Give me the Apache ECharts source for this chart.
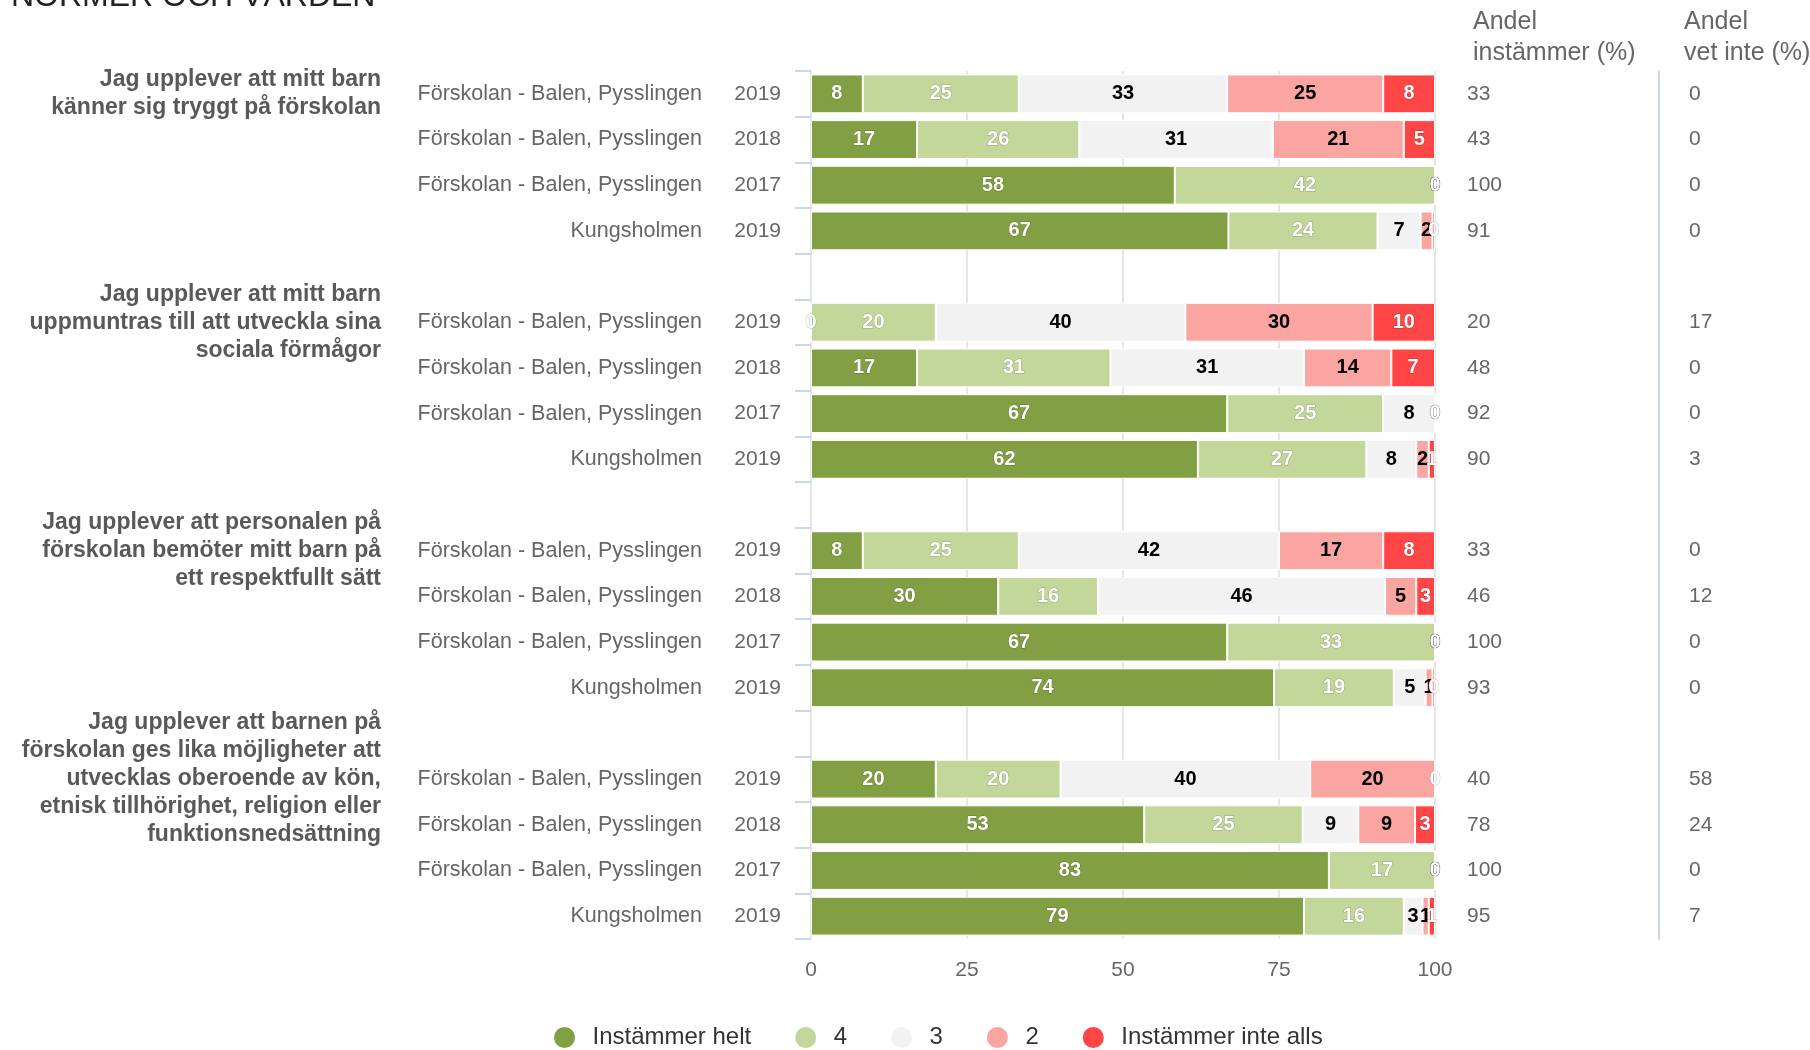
<!DOCTYPE html>
<html>
<head>
<meta charset="utf-8">
<script src="https://cdn.jsdelivr.net/npm/echarts@6/dist/echarts.min.js"></script>
<style>
html,body{margin:0;padding:0;background:#fff;}
#chart{width:1810px;height:1050px;}
</style>
</head>
<body>
<div id="chart"></div>
<script>
const chartTitle = 'NORMER OCH VÄRDEN';
const questions = [
  'Jag upplever att mitt barn\nkänner sig tryggt på förskolan',
  'Jag upplever att mitt barn\nuppmuntras till att utveckla sina\nsociala förmågor',
  'Jag upplever att personalen på\nförskolan bemöter mitt barn på\nett respektfullt sätt',
  'Jag upplever att barnen på\nförskolan ges lika möjligheter att\nutvecklas oberoende av kön,\netnisk tillhörighet, religion eller\nfunktionsnedsättning'
];
const units = ['Förskolan - Balen, Pysslingen', 'Förskolan - Balen, Pysslingen', 'Förskolan - Balen, Pysslingen', 'Kungsholmen'];
const years = ['2019', '2018', '2017', '2019'];
const seriesNames = ['Instämmer helt', '4', '3', '2', 'Instämmer inte alls'];
const seriesColors = ['#839f43', '#c4d79b', '#f2f2f2', '#fba5a3', '#ff4545'];
const labelColors = ['#ffffff', '#ffffff', '#000000', '#000000', '#ffffff'];

// rows in order: Q1 (2019, 2018, 2017, Kungsholmen), Q2 ..., Q3 ..., Q4 ...
const valHelt  = [8.3, 17, 58.3, 66.9,   0, 17, 66.7, 62,   8.3, 30, 66.7, 74.2,   20, 53.4, 83, 79];
const val4     = [25, 26, 41.7, 23.9,    20, 31, 25, 27,    25, 16, 33.3, 19.2,    20, 25.4, 17, 16];
const val3     = [33.4, 31, 0, 6.9,      40, 31, 8.3, 8,    41.7, 46, 0, 5.1,      40, 8.9, 0, 3];
const val2     = [25, 21, 0, 1.9,        30, 14, 0, 2,      16.7, 5, 0, 1.1,       20, 9.1, 0, 1];
const val1     = [8.3, 5, 0, 0.4,        10, 7, 0, 1,       8.3, 3, 0, 0.4,        0, 3.2, 0, 1];
const andelInstammer = [33, 43, 100, 91,  20, 48, 92, 90,  33, 46, 100, 93,  40, 78, 100, 95];
const andelVetInte   = [0, 0, 0, 0,       17, 0, 0, 3,     0, 12, 0, 0,      58, 24, 0, 7];
const headerInstammer = 'Andel\ninstämmer (%)';
const headerVetInte = 'Andel\nvet inte (%)';
const xMin = 0, xMax = 100, xInterval = 25;

const seriesValues = [valHelt, val4, val3, val2, val1];

// build category rows, with an empty row between question groups
const rows = [];
for (let g = 0; g < questions.length; g++) {
  for (let r = 0; r < units.length; r++) rows.push({ g: g, r: r, i: g * units.length + r });
  if (g < questions.length - 1) rows.push(null);
}
const categories = rows.map((_, k) => 'c' + k);

const FONT = '"Liberation Sans", Arial, sans-serif';

function catAxis(extra) {
  return Object.assign({
    type: 'category',
    data: categories,
    inverse: true,
    gridIndex: 0,
    axisLine: { show: false },
    axisTick: { show: false },
    splitLine: { show: false }
  }, extra);
}

const yAxes = [
  catAxis({
    position: 'left',
    axisTick: { show: true, interval: 0, length: 16, lineStyle: { color: '#ccd6eb', width: 2 } },
    axisLabel: {
      interval: 0, margin: 30, align: 'right', color: '#666', fontSize: 21, fontFamily: FONT,
      formatter: (v, idx) => rows[idx] ? years[rows[idx].r] : ''
    }
  }),
  catAxis({
    position: 'left',
    axisLabel: {
      interval: 0, margin: 109, align: 'right', color: '#666', fontSize: 21.5, fontFamily: FONT,
      formatter: (v, idx) => rows[idx] ? units[rows[idx].r] : ''
    }
  }),
  catAxis({
    position: 'left',
    axisLabel: {
      interval: 0, margin: 430, align: 'right', color: '#595959', fontSize: 23, fontWeight: 'bold',
      lineHeight: 28, fontFamily: FONT,
      formatter: (v, idx) => (rows[idx] && rows[idx].r === 0) ? questions[rows[idx].g] : ''
    }
  }),
  catAxis({
    position: 'right',
    axisLabel: {
      interval: 0, margin: 32, align: 'left', color: '#666', fontSize: 21, fontFamily: FONT,
      formatter: (v, idx) => rows[idx] ? String(andelInstammer[rows[idx].i]) : ''
    }
  }),
  catAxis({
    position: 'right',
    offset: 224,
    axisLine: { show: true, lineStyle: { color: '#ccd6eb', width: 2 } },
    axisLabel: {
      interval: 0, margin: 30, align: 'left', color: '#666', fontSize: 21, fontFamily: FONT,
      formatter: (v, idx) => rows[idx] ? String(andelVetInte[rows[idx].i]) : ''
    }
  })
];

const series = seriesNames.map((name, s) => ({
  name: name,
  type: 'bar',
  stack: 'total',
  yAxisIndex: 0,
  barCategoryGap: '15%',
  itemStyle: { color: seriesColors[s], borderColor: '#ffffff', borderWidth: 1 },
  label: {
    show: true,
    position: 'inside',
    color: labelColors[s],
    fontSize: 20,
    fontWeight: 'bold',
    fontFamily: FONT,
    textBorderColor: labelColors[s] === '#ffffff' ? 'rgba(0,0,0,0.25)' : 'transparent',
    textBorderWidth: labelColors[s] === '#ffffff' ? 1 : 0,
    formatter: p => String(Math.round(p.value))
  },
  emphasis: { disabled: true },
  data: rows.map(row => row ? seriesValues[s][row.i] : '-')
}));

const chart = echarts.init(document.getElementById('chart'), null, { renderer: 'canvas' });
chart.setOption({
  animation: false,
  color: seriesColors,
  textStyle: { fontFamily: FONT },
  title: [
    { text: chartTitle, left: 11, top: -19, padding: 0,
      textStyle: { fontSize: 32, fontWeight: 'normal', color: '#222', fontFamily: FONT } },
    { text: headerInstammer, left: 1473, top: 7, padding: 0,
      textStyle: { fontSize: 25, fontWeight: 'normal', color: '#666', lineHeight: 31, fontFamily: FONT } },
    { text: headerVetInte, left: 1684, top: 7, padding: 0,
      textStyle: { fontSize: 25, fontWeight: 'normal', color: '#666', lineHeight: 31, fontFamily: FONT } }
  ],
  grid: { left: 811, right: 375, top: 71, bottom: 111, containLabel: false },
  xAxis: {
    type: 'value',
    min: xMin, max: xMax, interval: xInterval,
    axisLine: { show: false },
    axisTick: { show: false },
    splitLine: { show: true, lineStyle: { color: '#e6e6e6', width: 2 } },
    axisLabel: { color: '#666', fontSize: 21, margin: 21, fontFamily: FONT }
  },
  yAxis: yAxes,
  legend: {
    data: seriesNames,
    left: 547,
    top: 1020,
    icon: 'circle',
    itemWidth: 46,
    itemHeight: 23,
    itemGap: 42,
    symbolKeepAspect: true,
    textStyle: { fontSize: 24, color: '#333', fontFamily: FONT },
    selectedMode: false
  },
  series: series
});
</script>
</body>
</html>
